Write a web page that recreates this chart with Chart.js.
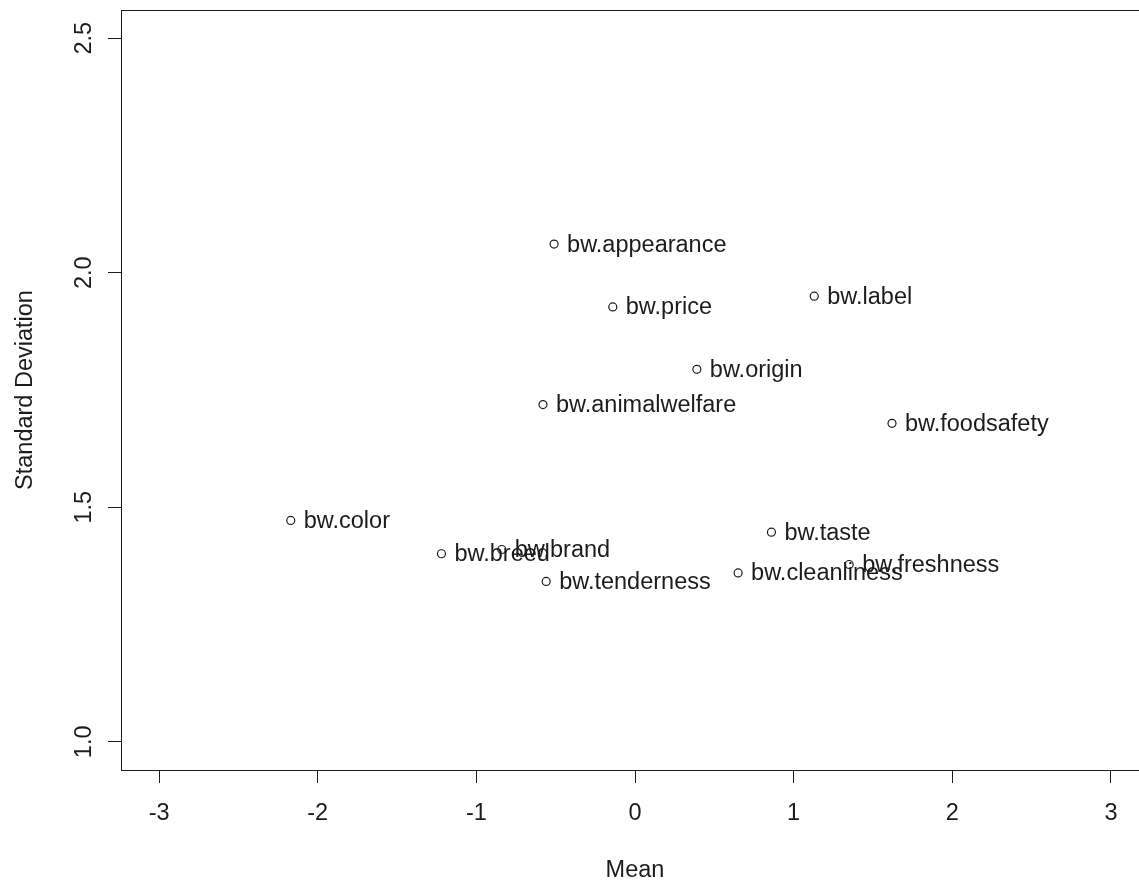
<!DOCTYPE html>
<html>
<head>
<meta charset="utf-8">
<title>Mean vs Standard Deviation</title>
<script src="https://cdn.jsdelivr.net/npm/chart.js@4.4.1/dist/chart.umd.min.js"></script>
<style>
  html, body { margin: 0; padding: 0; background: #ffffff; overflow: hidden; }
  #wrap { width: 1139px; height: 886px; overflow: hidden; }
  canvas { display: block; }
</style>
</head>
<body>
<div id="wrap"><canvas id="c" width="1160" height="886"></canvas></div>
<script>
// Attribute names, their mean and standard deviation
const names = [
  "bw.appearance", "bw.price", "bw.label", "bw.origin", "bw.animalwelfare",
  "bw.foodsafety", "bw.color", "bw.breed", "bw.brand", "bw.tenderness",
  "bw.taste", "bw.cleanliness", "bw.freshness"
];
const means = [
  -0.51, -0.14, 1.13, 0.39, -0.58,
  1.62, -2.17, -1.22, -0.84, -0.56,
  0.86, 0.65, 1.35
];
const sds = [
  2.061, 1.927, 1.950, 1.794, 1.719,
  1.679, 1.472, 1.401, 1.410, 1.342,
  1.447, 1.360, 1.378
];
const xTicks = [-3, -2, -1, 0, 1, 2, 3];
const yTicks = [1.0, 1.5, 2.0, 2.5];
const yTickLabels = ["1.0", "1.5", "2.0", "2.5"];
const xTitle = "Mean";
const yTitle = "Standard Deviation";

const FONT = '"Liberation Sans", Arial, sans-serif';
const FONT_SIZE = 23.5;
const INK = "#1c1c1c";

const points = names.map((n, i) => ({ x: means[i], y: sds[i] }));

// Box, point labels, rotated y tick labels and axis titles
const annotate = {
  id: "annotate",
  afterDatasetsDraw(chart) {
    const ctx = chart.ctx;
    const area = chart.chartArea;
    const xs = chart.scales.x;
    const ys = chart.scales.y;
    ctx.save();
    ctx.strokeStyle = INK;
    ctx.lineWidth = 1;
    ctx.strokeRect(area.left + 0.5, area.top + 0.5, area.right - area.left, area.bottom - area.top);

    ctx.fillStyle = INK;
    ctx.font = FONT_SIZE + "px " + FONT;
    ctx.textAlign = "left";
    ctx.textBaseline = "middle";
    const meta = chart.getDatasetMeta(0);
    meta.data.forEach((pt, i) => {
      ctx.fillText(names[i], pt.x + 13, pt.y + 1);
    });

    // y tick labels, written along the axis
    yTicks.forEach((v, i) => {
      const py = ys.getPixelForValue(v);
      ctx.save();
      ctx.translate(area.left - 36, py);
      ctx.rotate(-Math.PI / 2);
      ctx.textAlign = "center";
      ctx.textBaseline = "middle";
      ctx.fillText(yTickLabels[i], 0, 0);
      ctx.restore();
    });

    // axis titles
    ctx.textAlign = "center";
    ctx.textBaseline = "middle";
    ctx.fillText(xTitle, xs.getPixelForValue(0), 871);
    ctx.save();
    ctx.translate(26, (area.top + area.bottom) / 2);
    ctx.rotate(-Math.PI / 2);
    ctx.fillText(yTitle, 0, 0);
    ctx.restore();
    ctx.restore();
  }
};

new Chart(document.getElementById("c"), {
  type: "scatter",
  data: {
    datasets: [{
      data: points,
      pointStyle: "circle",
      pointRadius: 4,
      pointHoverRadius: 4,
      borderColor: INK,
      borderWidth: 1.2,
      backgroundColor: "rgba(0,0,0,0)"
    }]
  },
  options: {
    responsive: false,
    animation: false,
    devicePixelRatio: 1,
    layout: { padding: { top: 10, right: 11, left: 0, bottom: 0 } },
    plugins: { legend: { display: false }, tooltip: { enabled: false } },
    scales: {
      x: {
        type: "linear",
        min: -3.24,
        max: 3.24,
        afterBuildTicks(scale) { scale.ticks = xTicks.map(v => ({ value: v })); },
        afterFit(scale) { scale.height = 116; },
        grid: { drawOnChartArea: false, drawTicks: true, tickLength: 13, color: INK, lineWidth: 1 },
        border: { display: true, color: INK, width: 1 },
        ticks: {
          color: INK,
          font: { family: FONT, size: FONT_SIZE },
          padding: 16,
          maxRotation: 0,
          minRotation: 0,
          callback: v => String(v)
        }
      },
      y: {
        type: "linear",
        min: 0.94,
        max: 2.56,
        afterBuildTicks(scale) { scale.ticks = yTicks.map(v => ({ value: v })); },
        afterFit(scale) { scale.width = 121; },
        grid: { drawOnChartArea: false, drawTicks: true, tickLength: 13, color: INK, lineWidth: 1 },
        border: { display: true, color: INK, width: 1 },
        ticks: { display: false }
      }
    }
  },
  plugins: [annotate]
});
</script>
</body>
</html>
